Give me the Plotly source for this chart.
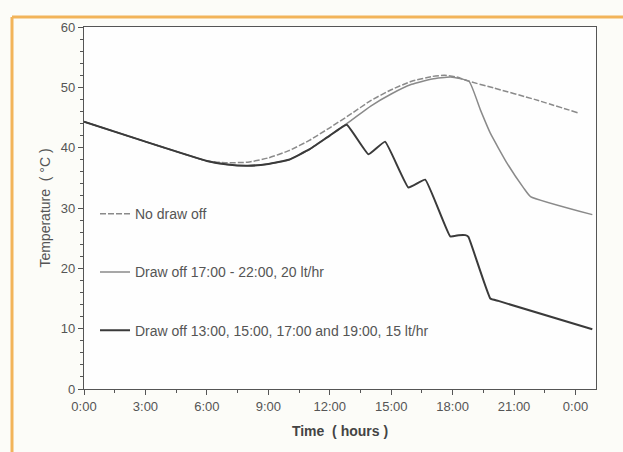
import plotly.graph_objects as go

# ---- data (hours, °C) ----
hours_none = [0, 3, 6, 6.5, 7, 8, 9, 10, 11, 12, 13, 14, 15, 16, 17, 17.6, 18.2, 18.8, 20, 22, 24.1]
temp_none = [44.3, 41.0, 37.8, 37.6, 37.5, 37.6, 38.3, 39.5, 41.2, 43.3, 45.5, 47.8, 49.6, 51.0, 51.8, 52.0, 51.7, 51.0, 49.9, 48.0, 45.8]

hours_eve = [0, 3, 6, 7, 8, 9, 10, 11, 12, 13, 14, 15, 16, 17, 17.9, 18.8, 19.35, 19.84, 20.66, 21.47, 21.8, 24.82]
temp_eve = [44.3, 41.0, 37.8, 37.2, 37.0, 37.3, 38.0, 39.7, 42.0, 44.4, 46.9, 48.9, 50.5, 51.4, 51.7, 51.0, 46.3, 42.4, 37.4, 33.3, 31.9, 28.9]

hours_step = [0, 3, 6, 7, 8, 9, 10, 11, 12, 12.83, 13.89, 14.70, 15.84, 16.66, 17.88, 18.3, 18.62, 18.77, 19.84, 20.23, 24.82]
temp_step = [44.3, 41.0, 37.8, 37.2, 37.0, 37.3, 38.0, 39.7, 42.0, 43.8, 38.9, 41.0, 33.4, 34.7, 25.3, 25.5, 25.5, 25.2, 15.0, 14.6, 9.9]

names = ["No draw off",
         "Draw off 17:00 - 22:00, 20 lt/hr",
         "Draw off 13:00, 15:00, 17:00 and 19:00, 15 lt/hr"]

tick_vals = [0, 3, 6, 9, 12, 15, 18, 21, 24]
tick_text = ["0:00", "3:00", "6:00", "9:00", "12:00", "15:00", "18:00", "21:00", "0:00"]

fig = go.Figure()
fig.add_trace(go.Scatter(x=hours_none, y=temp_none, mode="lines", name=names[0],
                         legendgroup="a",
                         line=dict(color="#8a8a8a", width=1.5, dash="6px,2px", shape="spline", smoothing=0.5)))
fig.add_trace(go.Scatter(x=hours_eve, y=temp_eve, mode="lines", name=names[1],
                         legendgroup="b",
                         line=dict(color="#8a8a8a", width=1.5, shape="spline", smoothing=0.4)))
fig.add_trace(go.Scatter(x=hours_step, y=temp_step, mode="lines", name=names[2],
                         legendgroup="c",
                         line=dict(color="#3a3a3a", width=2, shape="spline", smoothing=0.3)))

axis_common = dict(showline=True, linecolor="#555555", linewidth=1.2, mirror=True,
                   showgrid=False, zeroline=False, ticks="outside", ticklen=5,
                   tickcolor="#555555", tickfont=dict(family="Liberation Sans, Arial", size=13, color="#555555"))

fig.update_xaxes(range=[0, 25], tickvals=tick_vals, ticktext=tick_text,
                 minor=dict(dtick=1.5, tick0=0, ticks="outside", ticklen=3, tickcolor="#555555"),
                 title=dict(text="<b>Time  ( hours )</b>", standoff=13,
                            font=dict(family="Liberation Sans, Arial", size=14, color="#444444")),
                 **axis_common)
fig.update_yaxes(range=[0, 60], tickvals=[0, 10, 20, 30, 40, 50, 60],
                 minor=dict(dtick=2, tick0=0, ticks="outside", ticklen=3, tickcolor="#555555"),
                 title=dict(text="Temperature  ( °C )", standoff=6,
                            font=dict(family="Liberation Sans, Arial", size=14, color="#555555")),
                 **axis_common)

# orange photo frame (decoration)
fig.add_shape(type="line", xref="paper", yref="paper", x0=-0.1406, x1=1.06, y0=1.0276, y1=1.0276,
              line=dict(color="#f2b45a", width=3))
fig.add_shape(type="line", xref="paper", yref="paper", x0=-0.1406, x1=-0.1406, y0=1.0276, y1=-0.18,
              line=dict(color="#f2b45a", width=3))

fig.update_layout(
    width=623, height=452,
    margin=dict(l=84, r=27, t=27, b=63),
    paper_bgcolor="#fcfcf8",
    plot_bgcolor="#fefefe",
    showlegend=True,
    legend=dict(x=0.0215, y=0.527, xanchor="left", yanchor="top",
                bgcolor="rgba(0,0,0,0)", tracegroupgap=37,
                font=dict(family="Liberation Sans, Arial", size=14, color="#555555")),
)

fig.write_html("out.html")
